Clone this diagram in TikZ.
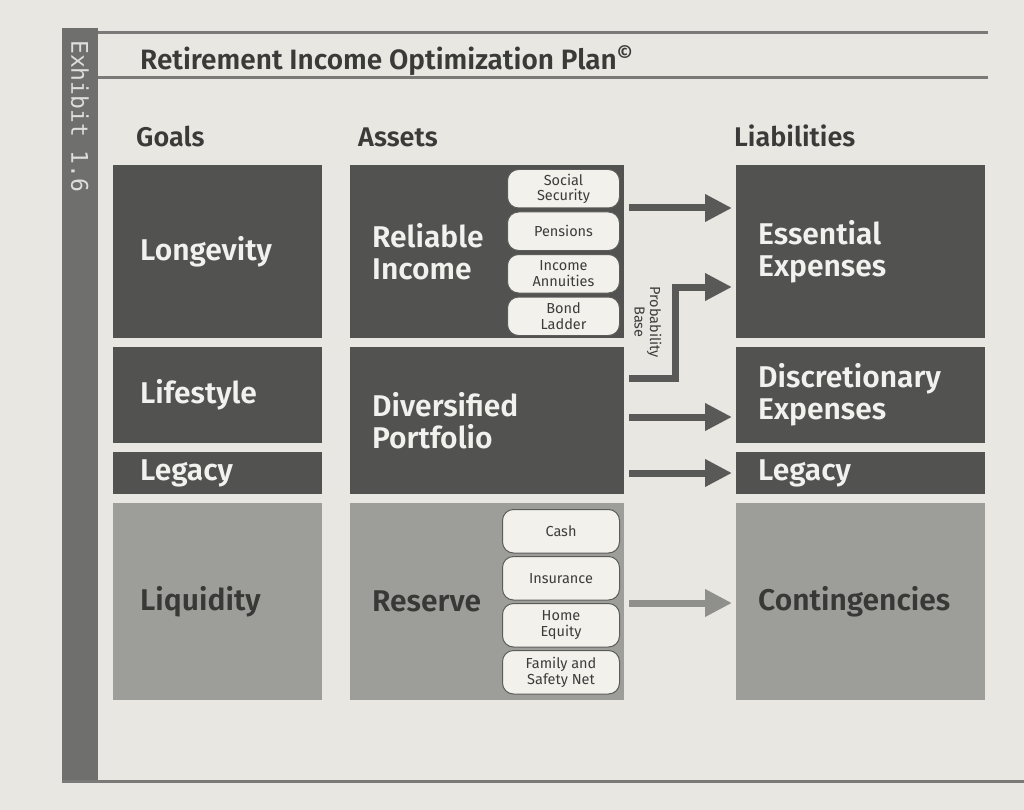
\documentclass[tikz,border=0pt]{standalone}
\usepackage{fontspec}
\setmainfont{Fira Sans}
\IfFontExistsTF{Fira Sans SemiBold}
  {\newfontfamily\semifont{Fira Sans SemiBold}}
  {\newcommand\semifont{\bfseries}}
\newfontfamily\exhfont{DejaVu Sans Mono}
\usetikzlibrary{arrows.meta}
\definecolor{pagebg}{HTML}{E8E7E2}
\definecolor{barcol}{HTML}{6F6F6D}
\definecolor{rulecol}{HTML}{7A7A78}
\definecolor{darkbox}{HTML}{525251}
\definecolor{lightbox}{HTML}{9D9D9A}
\definecolor{pillfill}{HTML}{F2F1EC}
\definecolor{pilledge}{HTML}{5C5C5B}
\definecolor{pilltxt}{HTML}{3C3C3B}
\definecolor{headtxt}{HTML}{3A3A39}
\definecolor{lighttxt}{HTML}{F1F1EE}
\definecolor{darktxt}{HTML}{383837}
\definecolor{bartxt}{HTML}{DEDEDB}
\definecolor{arrowdark}{HTML}{595958}
\definecolor{arrowlight}{HTML}{8F8F8C}
\tikzset{
  box/.style={anchor=north west, inner xsep=22pt, inner ysep=0pt, align=left,
    font=\semifont\fontsize{30}{32}\selectfont},
  dbox/.style={box, fill=darkbox, text=lighttxt},
  lbox/.style={box, fill=lightbox, text=darktxt},
  pill/.style={anchor=north west, draw=pilledge, line width=1pt, fill=pillfill,
    rounded corners=11pt, inner sep=0pt, align=center, minimum width=112pt,
    text=pilltxt, font=\fontsize{14.5}{15.5}\selectfont},
  head/.style={anchor=base west, inner sep=0pt, text=headtxt,
    font=\semifont\fontsize{27}{27}\selectfont},
  arr/.style={line width=7pt, draw=arrowdark, -{Triangle[length=27pt,width=26pt]},
    shorten <=5pt, shorten >=4pt},
}
\begin{document}
\begin{tikzpicture}[x=1pt,y=-1pt]
  \useasboundingbox (0,0) rectangle (1024,810);
  \fill[pagebg] (0,0) rectangle (1024,810);
  % frame
  \fill[barcol] (62,28) rectangle (98,781);
  \draw[rulecol, line width=3pt] (98,33) -- (988,33) (98,78) -- (988,78);
  \draw[rulecol, line width=3pt] (62,781) -- (1024,781);
  \node[rotate=-90, anchor=west, inner sep=0pt, text=bartxt,
    font=\exhfont\fontsize{23}{23}\selectfont] (exh) at (80,40) {Exhibit 1.6};
  \node[anchor=base west, inner sep=0pt, text=headtxt,
    font=\semifont\fontsize{28}{28}\selectfont] (title) at (140,70)
    {Retirement Income Optimization Plan\textsuperscript{\copyright}};

  \node[head] (goals) at (136,147) {Goals};
  \node[head] (assets) at (358,147) {Assets};
  \node[head] (liab) at (734,147) {Liabilities};

  % goals
  \node[dbox, inner xsep=27pt, text width=155pt, minimum height=173pt] (longevity) at (113,165) {Longevity};
  \node[dbox, inner xsep=27pt, text width=155pt, minimum height=96pt] (lifestyle) at (113,347) {Lifestyle};
  \node[dbox, inner xsep=27pt, text width=155pt, minimum height=42pt] (legacyg) at (113,452) {Legacy};
  \node[lbox, inner xsep=27pt, text width=155pt, minimum height=197pt] (liquidity) at (113,503) {Liquidity};

  % assets
  \node[dbox, text width=230pt, minimum height=173pt] (reliable) at (350,165) {Reliable\\Income};
  \node[dbox, text width=230pt, minimum height=147pt] (diversified) at (350,347) {Diversified\\Portfolio};
  \node[lbox, text width=230pt, minimum height=197pt] (reserve) at (350,503) {Reserve};

  \node[pill, minimum height=38.5pt] (socsec) at (507,169) {Social\\Security};
  \node[pill, minimum height=38.5pt] (pension) at (507,211.5) {Pensions};
  \node[pill, minimum height=38.5pt] (annuity) at (507,254) {Income\\Annuities};
  \node[pill, minimum height=38.5pt] (bond) at (507,296.5) {Bond\\Ladder};

  \node[pill, minimum width=117pt, minimum height=43.5pt] (cash) at (502,509) {Cash};
  \node[pill, minimum width=117pt, minimum height=43.5pt] (insur) at (502,556) {Insurance};
  \node[pill, minimum width=117pt, minimum height=43.5pt] (home) at (502,603) {Home\\Equity};
  \node[pill, minimum width=117pt, minimum height=43.5pt] (family) at (502,650) {Family and\\Safety Net};

  % liabilities
  \node[dbox, text width=205pt, minimum height=173pt] (essential) at (736,165) {Essential\\Expenses};
  \node[dbox, text width=205pt, minimum height=96pt] (discret) at (736,347) {Discretionary\\Expenses};
  \node[dbox, text width=205pt, minimum height=42pt] (legacyl) at (736,452) {Legacy};
  \node[lbox, text width=205pt, minimum height=197pt] (conting) at (736,503) {Contingencies};

  \node[rotate=-90, inner sep=0pt, align=center, text=pilltxt,
    font=\fontsize{14.5}{15.5}\selectfont] (probtxt) at (648,322) {Probability\\Base};
  \coordinate (pbend) at (675,330);

  \draw[arr] (reliable.east |- 0,208) -- (essential.west |- 0,208);
  \draw[arr] (diversified.east |- 0,378) -| (pbend) |- (essential.west |- 0,287);
  \draw[arr] (diversified.east |- 0,417) -- (discret.west |- 0,417);
  \draw[arr] (diversified.east |- 0,473) -- (legacyl.west |- 0,473);
  \draw[arr, draw=arrowlight] (reserve.east |- 0,603) -- (conting.west |- 0,603);
\end{tikzpicture}
\end{document}
